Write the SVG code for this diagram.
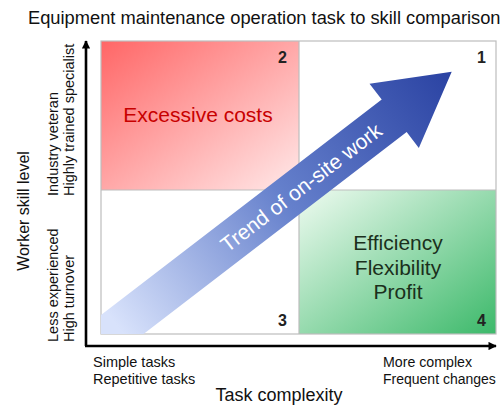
<svg xmlns="http://www.w3.org/2000/svg" width="504" height="405" viewBox="0 0 504 405">
<defs>
<style>
text{font-family:"Liberation Sans",Arial,sans-serif;}
.t{font-size:18px;fill:#111;}
.lab{font-size:14.5px;fill:#111;}
.num{font-size:16px;font-weight:bold;fill:#222;text-anchor:end;}
.big{font-size:21px;}
.ax{stroke:#000;stroke-width:2.6;fill:none;}
.div{stroke:#bdbdbd;stroke-width:1.2;fill:none;}
</style>
<linearGradient id="gRed" x1="0" y1="0" x2="1" y2="1">
<stop offset="0" stop-color="#ff6666"/>
<stop offset="1" stop-color="#ffe9e9"/>
</linearGradient>
<linearGradient id="gGreen" x1="0" y1="0" x2="1" y2="1">
<stop offset="0" stop-color="#effbf1"/>
<stop offset="1" stop-color="#3cb96a"/>
</linearGradient>
<linearGradient id="gBlue" gradientUnits="userSpaceOnUse" x1="-420" y1="0" x2="0" y2="0">
<stop offset="0" stop-color="#d8e2fb"/>
<stop offset="0.5" stop-color="#6580cc"/>
<stop offset="1" stop-color="#2a42a2"/>
</linearGradient>
<clipPath id="boxClip"><rect x="101" y="41" width="395" height="293"/></clipPath>
<marker id="ah" viewBox="0 0 10 10" refX="9" refY="5" markerWidth="3.6" markerHeight="3.2" orient="auto" markerUnits="strokeWidth">
<path d="M0,0 L10,5 L0,10 z" fill="#000"/>
</marker>
</defs>
<rect width="504" height="405" fill="#fff"/>

<text class="t" x="28" y="24" style="font-size:18.3px">Equipment maintenance operation task to skill comparison</text>

<g id="q2"><rect x="101" y="41" width="198" height="149" fill="url(#gRed)"/>
<text class="big" x="198" y="122" fill="#c80000" text-anchor="middle">Excessive costs</text>
<text class="num" x="287" y="63">2</text></g>
<g id="q1"><rect x="299" y="41" width="197" height="149" fill="#fff"/>
<text class="num" x="486" y="63">1</text></g>
<g id="q3"><rect x="101" y="190" width="198" height="144" fill="#fff"/>
<text class="num" x="287" y="326">3</text></g>
<g id="q4"><rect x="299" y="190" width="197" height="144" fill="url(#gGreen)"/>
<text class="big" x="398" y="250" fill="#1b301c" text-anchor="middle">Efficiency</text>
<text class="big" x="398" y="275" fill="#1b301c" text-anchor="middle">Flexibility</text>
<text class="big" x="398" y="299" fill="#1b301c" text-anchor="middle">Profit</text>
<text class="num" x="486" y="326">4</text></g>

<g id="grid">
<rect x="101" y="41" width="395" height="293" class="div"/>
<line x1="299" y1="41" x2="299" y2="334" class="div"/>
<line x1="101" y1="190" x2="496" y2="190" class="div"/>
</g>

<g id="trend" clip-path="url(#boxClip)">
<g transform="translate(451.7,71.7) rotate(-37.5)">
<polygon points="0,0 -72.5,-40.5 -72.5,-20.5 -480,-20.5 -480,20.5 -72.5,20.5 -72.5,40.5" fill="url(#gBlue)"/>
<text class="big" x="-190" y="7.5" fill="#fff" text-anchor="middle">Trend of on-site work</text>
</g>
</g>

<g id="connectors">
<line x1="86" y1="346" x2="86" y2="41" class="ax" marker-end="url(#ah)"/>
<line x1="85" y1="346" x2="496" y2="346" class="ax" marker-end="url(#ah)"/>
</g>

<g id="yaxis-labels">
<text class="t" transform="translate(29,211) rotate(-90)" text-anchor="middle" style="font-size:16px">Worker skill level</text>
<text class="lab" transform="translate(58,196) rotate(-90)">Industry veteran</text>
<text class="lab" transform="translate(74,196) rotate(-90)">Highly trained specialist</text>
<text class="lab" transform="translate(58,342) rotate(-90)">Less experienced</text>
<text class="lab" transform="translate(74,342) rotate(-90)">High turnover</text>
</g>

<g id="xaxis-labels">
<text class="lab" x="93" y="366.5">Simple tasks</text>
<text class="lab" x="93" y="384">Repetitive tasks</text>
<text class="lab" x="383" y="366.5" style="font-size:14.2px">More complex</text>
<text class="lab" x="383" y="384" style="font-size:14px">Frequent changes</text>
<text class="t" x="279" y="401" text-anchor="middle">Task complexity</text>
</g>
</svg>
